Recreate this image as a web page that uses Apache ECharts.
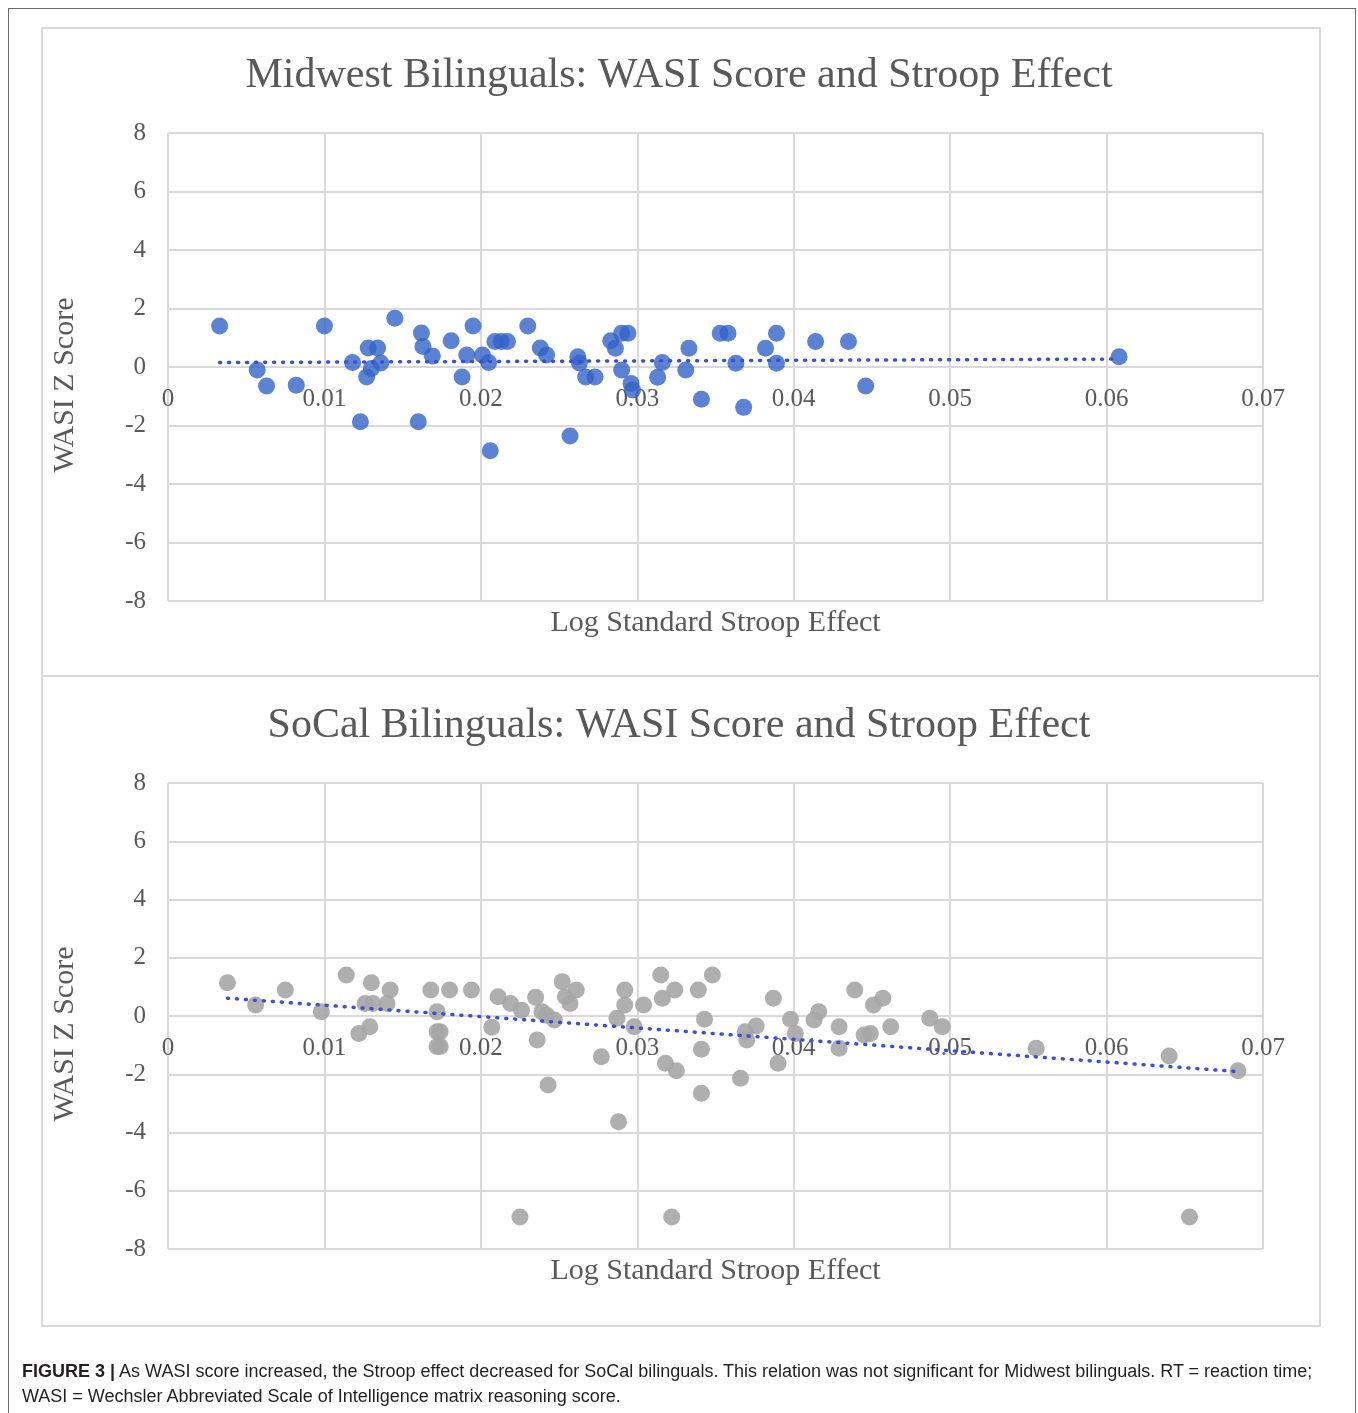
<!DOCTYPE html>
<html>
<head>
<meta charset="utf-8">
<script src="https://cdn.jsdelivr.net/npm/echarts@6/dist/echarts.min.js"></script>
<style>
  body { margin: 0; background: #fff; }
  #frame {
    position: absolute; left: 8px; top: 8px; width: 1348px; height: 1420px;
    border: 1px solid #6b6b6b; border-bottom: none; box-sizing: border-box;
  }
  #chart { position: absolute; left: 0; top: 0; width: 1358px; height: 1413px; }
  .caption {
    position: absolute; left: 22px; top: 1359px;
    font-family: 'Liberation Sans', Arial, sans-serif; font-size: 18px;
    line-height: 25px; color: #231f20; white-space: nowrap;
  }
</style>
</head>
<body>
<div id="frame"></div>
<div id="chart"></div>
<div class="caption"><b>FIGURE 3 |</b> As WASI score increased, the Stroop effect decreased for SoCal bilinguals. This relation was not significant for Midwest bilinguals. RT = reaction time;<br>WASI = Wechsler Abbreviated Scale of Intelligence matrix reasoning score.</div>
<script>
// Midwest bilinguals
const midwestX = [0.0033, 0.0057, 0.0063, 0.0082, 0.0100, 0.0118, 0.0123, 0.0127, 0.0128, 0.0134,
  0.0136, 0.0130, 0.0145, 0.0162, 0.0163, 0.0169, 0.0160, 0.0181, 0.0191, 0.0188,
  0.0195, 0.0201, 0.0205, 0.0206, 0.0209, 0.0213, 0.0217, 0.0230, 0.0238, 0.0242,
  0.0262, 0.0263, 0.0267, 0.0273, 0.0257, 0.0283, 0.0286, 0.0290, 0.0294, 0.0290,
  0.0296, 0.0297, 0.0313, 0.0316, 0.0331, 0.0333, 0.0341, 0.0353, 0.0358, 0.0363,
  0.0368, 0.0382, 0.0389, 0.0389, 0.0414, 0.0435, 0.0446, 0.0608];
const midwestY = [1.40, -0.10, -0.65, -0.62, 1.40, 0.15, -1.87, -0.34, 0.65, 0.65,
  0.14, -0.05, 1.67, 1.16, 0.70, 0.38, -1.87, 0.90, 0.41, -0.34,
  1.40, 0.41, 0.15, -2.86, 0.87, 0.87, 0.87, 1.40, 0.65, 0.41,
  0.35, 0.14, -0.34, -0.34, -2.36, 0.90, 0.64, 1.15, 1.15, -0.10,
  -0.56, -0.79, -0.35, 0.15, -0.10, 0.64, -1.10, 1.15, 1.15, 0.13,
  -1.38, 0.64, 1.15, 0.13, 0.87, 0.87, -0.65, 0.35];

// SoCal bilinguals
const socalX = [0.0038, 0.0056, 0.0075, 0.0098, 0.0114, 0.0122, 0.0126, 0.0131, 0.0140, 0.0130,
  0.0142, 0.0129, 0.0168, 0.0180, 0.0194, 0.0172, 0.0172, 0.0174, 0.0172, 0.0174,
  0.0207, 0.0211, 0.0219, 0.0226, 0.0235, 0.0236, 0.0239, 0.0242, 0.0243, 0.0252,
  0.0254, 0.0257, 0.0261, 0.0247, 0.0277, 0.0288, 0.0287, 0.0292, 0.0292, 0.0298,
  0.0304, 0.0315, 0.0316, 0.0324, 0.0318, 0.0325, 0.0339, 0.0348, 0.0343, 0.0341,
  0.0341, 0.0366, 0.0369, 0.0370, 0.0376, 0.0387, 0.0390, 0.0398, 0.0401, 0.0413,
  0.0416, 0.0429, 0.0429, 0.0439, 0.0445, 0.0449, 0.0451, 0.0457, 0.0462, 0.0487,
  0.0495, 0.0555, 0.0640, 0.0684, 0.0225, 0.0322, 0.0653];
const socalY = [1.14, 0.38, 0.89, 0.15, 1.41, -0.60, 0.43, 0.43, 0.43, 1.14,
  0.89, -0.37, 0.89, 0.89, 0.89, 0.15, -0.54, -0.54, -1.05, -1.05,
  -0.39, 0.66, 0.43, 0.20, 0.64, -0.82, 0.15, 0.03, -2.37, 1.18,
  0.66, 0.43, 0.89, -0.14, -1.40, -3.63, -0.08, 0.89, 0.38, -0.37,
  0.38, 1.41, 0.61, 0.89, -1.62, -1.88, 0.89, 1.41, -0.11, -1.14,
  -2.65, -2.14, -0.54, -0.82, -0.34, 0.61, -1.62, -0.11, -0.60, -0.14,
  0.15, -0.37, -1.11, 0.89, -0.65, -0.60, 0.38, 0.61, -0.37, -0.08,
  -0.37, -1.11, -1.37, -1.88, -6.90, -6.90, -6.90];

const titles = ['Midwest Bilinguals: WASI Score and Stroop Effect', 'SoCal Bilinguals: WASI Score and Stroop Effect'];
const xTicks = { min: 0, max: 0.07, interval: 0.01 };
const yTicks = { min: -8, max: 8, interval: 2 };

function pairs(xs, ys) {
  return xs.map((x, i) => [x, ys[i]]);
}

// least squares trendline across the data's x range
function trend(xs, ys) {
  const n = xs.length;
  const mx = xs.reduce((a, b) => a + b, 0) / n;
  const my = ys.reduce((a, b) => a + b, 0) / n;
  let sxy = 0, sxx = 0;
  for (let i = 0; i < n; i++) {
    sxy += (xs[i] - mx) * (ys[i] - my);
    sxx += (xs[i] - mx) * (xs[i] - mx);
  }
  const b = sxy / sxx;
  const a = my - b * mx;
  const lo = Math.min(...xs), hi = Math.max(...xs);
  return [[lo, a + b * lo], [hi, a + b * hi]];
}

const serif = 'Liberation Serif';
const grey = '#595959';
const gridColor = '#d9d9d9';
const grids = [
  { left: 168, top: 133, width: 1095, height: 468 },
  { left: 168, top: 783, width: 1095, height: 466 }
];

const xAxes = [];
const yAxes = [];
grids.forEach((g, i) => {
  // labels sit on the zero line: shift the bottom axis up by half the plot height
  xAxes.push({
    type: 'value', gridIndex: i, min: xTicks.min, max: xTicks.max, interval: xTicks.interval,
    position: 'bottom', offset: -g.height / 2,
    axisLine: { onZero: false, lineStyle: { color: gridColor, width: 2 } },
    axisTick: { show: false },
    axisLabel: { margin: 20, fontFamily: serif, fontSize: 25, color: grey },
    splitLine: { lineStyle: { color: gridColor, width: 2 } }
  });
  // second axis only carries the axis title under the plot
  xAxes.push({
    type: 'value', gridIndex: i, min: xTicks.min, max: xTicks.max, position: 'bottom',
    axisLine: { show: false, onZero: false }, axisTick: { show: false },
    axisLabel: { show: false }, splitLine: { show: false },
    name: 'Log Standard Stroop Effect', nameLocation: 'middle', nameGap: 7,
    nameTextStyle: { fontFamily: serif, fontSize: 30, color: grey }
  });
  yAxes.push({
    type: 'value', gridIndex: i, min: yTicks.min, max: yTicks.max, interval: yTicks.interval,
    axisLine: { show: false }, axisTick: { show: false },
    axisLabel: { margin: 22, fontFamily: serif, fontSize: 25, color: grey },
    splitLine: { lineStyle: { color: gridColor, width: 2 } },
    name: 'WASI Z Score', nameLocation: 'middle', nameGap: 88, nameRotate: 90,
    nameTextStyle: { fontFamily: serif, fontSize: 30, color: grey, padding: [0, 36, 0, 0] }
  });
});

const chart = echarts.init(document.getElementById('chart'));
chart.setOption({
  animation: false,
  title: titles.map((t, i) => ({
    text: t, left: 'center', top: i === 0 ? 50 : 700,
    textStyle: { fontFamily: serif, fontSize: 42, fontWeight: 'normal', color: grey }
  })),
  grid: grids,
  xAxis: xAxes,
  yAxis: yAxes,
  graphic: [
    { type: 'rect', shape: { x: 42, y: 28, width: 1278, height: 648 }, style: { fill: 'none', stroke: gridColor, lineWidth: 2 } },
    { type: 'rect', shape: { x: 42, y: 676, width: 1278, height: 650 }, style: { fill: 'none', stroke: gridColor, lineWidth: 2 } }
  ],
  series: [
    {
      type: 'scatter', xAxisIndex: 0, yAxisIndex: 0, symbolSize: 17,
      itemStyle: { color: '#3363c8' }, data: pairs(midwestX, midwestY)
    },
    {
      type: 'line', xAxisIndex: 0, yAxisIndex: 0, symbol: 'none',
      lineStyle: { color: '#3b4fd0', width: 3.5, type: [1, 8], cap: 'round' },
      data: trend(midwestX, midwestY)
    },
    {
      type: 'scatter', xAxisIndex: 2, yAxisIndex: 1, symbolSize: 17,
      itemStyle: { color: '#a6a6a6', opacity: 0.9 }, data: pairs(socalX, socalY)
    },
    {
      type: 'line', xAxisIndex: 2, yAxisIndex: 1, symbol: 'none',
      lineStyle: { color: '#3b4fd0', width: 3.5, type: [1, 8], cap: 'round' },
      data: trend(socalX, socalY)
    }
  ]
});
</script>
</body>
</html>
